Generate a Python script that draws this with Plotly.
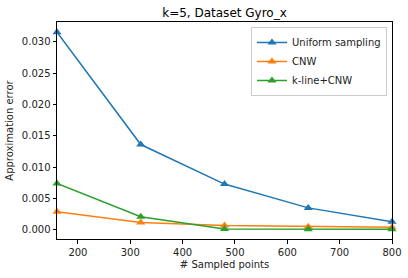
import plotly.graph_objects as go

x_points = [160, 320, 480, 640, 800]
uniform = [0.0315, 0.0136, 0.0073, 0.0035, 0.0013]
cnw = [0.0029, 0.00116, 0.0007, 0.0005, 0.0004]
kline_cnw = [0.0074, 0.0021, 0.00015, 0.0001, 0.0001]

series = [
    ("Uniform sampling", uniform, "#1f77b4"),
    ("CNW", cnw, "#ff7f0e"),
    ("k-line+CNW", kline_cnw, "#2ca02c"),
]

fig = go.Figure()
for name, vals, color in series:
    fig.add_trace(go.Scatter(
        x=x_points, y=vals, name=name, mode="lines+markers",
        line=dict(color=color, width=1.5),
        marker=dict(symbol="triangle-up", size=8, color=color),
        cliponaxis=False,
    ))

font = "DejaVu Sans"
fig.update_layout(
    width=408, height=278,
    margin=dict(l=57, r=16, t=22, b=38.5, autoexpand=False),
    paper_bgcolor="white", plot_bgcolor="white",
    font=dict(family=font, size=10, color="#222222"),
    title=dict(text="k=5, Dataset Gyro_x", x=0.5, xref="paper", xanchor="center",
               y=1, yref="paper", yanchor="bottom", pad=dict(b=5),
               font=dict(size=12, color="black"), automargin=False),
    showlegend=True,
    legend=dict(x=0.985, y=0.977, xanchor="right", yanchor="top",
                bgcolor="rgba(255,255,255,0.8)", bordercolor="#cccccc", borderwidth=1,
                font=dict(size=10), tracegroupgap=0, itemwidth=30),
    xaxis=dict(range=[160, 800], tickvals=[200, 300, 400, 500, 600, 700, 800],
               automargin=False,
               showgrid=False, zeroline=False, showline=True, linecolor="black",
               linewidth=1, mirror=True, ticks="outside", ticklen=3.5,
               tickcolor="black", title=dict(text="# Sampled points", standoff=4,
                                             font=dict(size=10))),
    yaxis=dict(range=[-0.00146, 0.03314], dtick=0.005, tick0=0, tickformat=".3f",
               automargin=False,
               showgrid=False, zeroline=False, showline=True, linecolor="black",
               linewidth=1, mirror=True, ticks="outside", ticklen=3.5,
               tickcolor="black", title=dict(text="Approximation error", standoff=6,
                                             font=dict(size=10))),
)

fig.write_html("out.html", config={"displayModeBar": False},
               post_script="document.body.style.margin='0';document.body.style.padding='0';")
